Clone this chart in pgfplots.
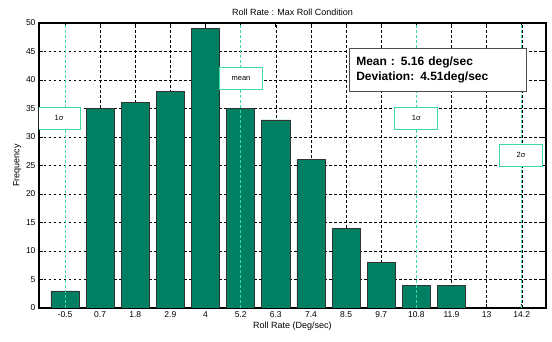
\documentclass[border=0pt]{standalone}
\usepackage{fontspec}
\setmainfont{Liberation Sans}
\usepackage{pgfplots}
\pgfplotsset{compat=1.18}
\definecolor{barfill}{HTML}{007F63}
\definecolor{sig}{HTML}{3DD9A4}
\begin{document}
\begin{tikzpicture}
\begin{axis}[
  scale only axis, width=507pt, height=285pt,
  xmin=-0.74, xmax=13.69, ymin=0, ymax=50,
  xtick={0,1,2,3,4,5,6,7,8,9,10,11,12,13},
  xticklabels={-0.5,0.7,1.8,2.9,4,5.2,6.3,7.4,8.5,9.7,10.8,11.9,13,14.2},
  ytick={0,5,10,15,20,25,30,35,40,45,50},
  tick align=inside, tick pos=both,
  major tick length=4pt,
  grid=major,
  major grid style={black, line width=0.5pt, dash pattern=on 2.5pt off 2.5pt},
  axis line style={line width=1.2pt},
  tick style={black, line width=0.8pt},
  ticklabel style={font=\fontsize{8.5}{10}\selectfont},
  /pgf/number format/assume math mode=true,
  title={Roll Rate : Max Roll Condition},
  title style={font=\fontsize{9}{10}\selectfont, yshift=-2pt},
  xlabel={Roll Rate (Deg/sec)},
  xlabel style={font=\fontsize{9}{10}\selectfont, yshift=2pt},
  ylabel={Frequency},
  ylabel style={font=\fontsize{9}{10}\selectfont, yshift=-2pt},
]
\addplot[ybar, bar width=0.8, fill=barfill, draw=black!80, line width=0.7pt]
  coordinates {(0,3) (1,35) (2,36) (3,38) (4,49) (5,35) (6,33) (7,26) (8,14) (9,8) (10,4) (11,4)};
\addplot[sig, line width=0.8pt, dash pattern=on 3pt off 2pt] coordinates {(0,0) (0,50)};
\addplot[sig, line width=0.8pt, dash pattern=on 3pt off 2pt] coordinates {(5,0) (5,50)};
\addplot[sig, line width=0.8pt, dash pattern=on 3pt off 2pt] coordinates {(10,0) (10,50)};
\addplot[sig, line width=0.8pt, dash pattern=on 3pt off 2pt] coordinates {(13,0) (13,50)};
\tikzset{sbox/.style={draw=sig, fill=white, line width=0.9pt, minimum width=43pt, minimum height=22pt, inner sep=0pt, font=\fontsize{7.5}{8}\selectfont}}
\node[sbox] at (axis cs:-0.17,33.3) {1σ};
\node[sbox] at (axis cs:5.01,40.3) {mean};
\node[sbox] at (axis cs:10.0,33.3) {1σ};
\node[sbox] at (axis cs:12.98,26.8) {2σ};
\node[draw=black!70, fill=white, line width=1pt, text width=163pt, minimum height=43pt, align=left, inner xsep=7pt, inner ysep=4pt, font=\bfseries\fontsize{12}{15}\selectfont] at (axis cs:10.61,41.8) {Mean : 5.16 deg/sec\\Deviation: 4.51deg/sec};
\end{axis}
\pgfresetboundingbox
\path ([xshift=-39pt,yshift=-34pt]current axis.south west) rectangle ([xshift=6pt,yshift=23pt]current axis.north east);
\end{tikzpicture}
\end{document}
